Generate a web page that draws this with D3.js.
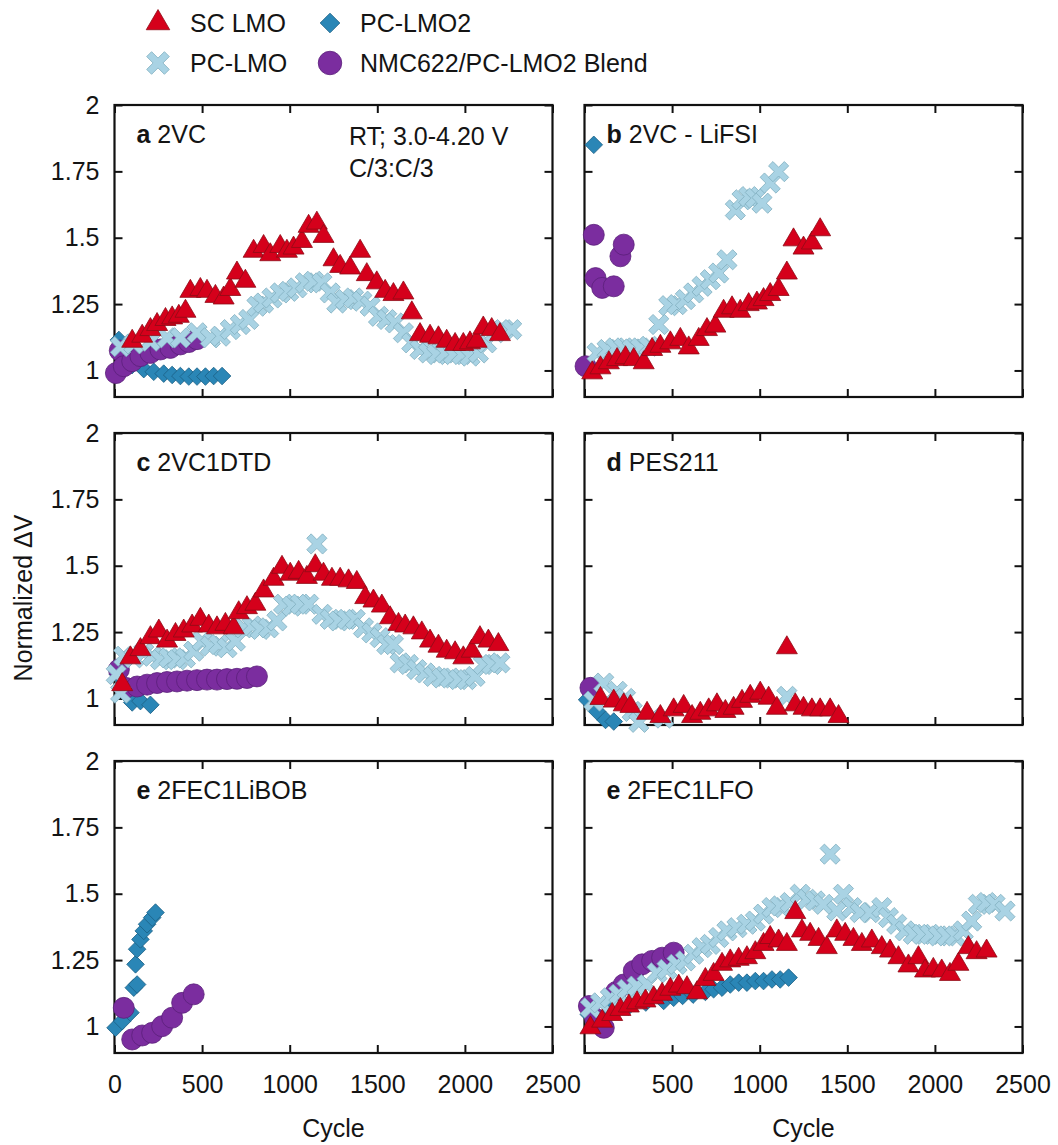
<!DOCTYPE html>
<html>
<head>
<meta charset="utf-8">
<script src="https://cdn.jsdelivr.net/npm/d3@7"></script>
<style>
  html, body { margin: 0; padding: 0; background: #fff; }
  svg text { font-family: "Liberation Sans", Arial, sans-serif; fill: #141414; }
</style>
</head>
<body>
<script>
// ---- axis ticks ----
const cycleTicks = [0, 500, 1000, 1500, 2000, 2500];
const dvTicks = [1, 1.25, 1.5, 1.75, 2];

// ---- series: [cycle, normalized ΔV] ----
// a: 2VC
const aSC = [[101,1.110],[158,1.129],[205,1.154],[243,1.173],[291,1.192],[329,1.198],[367,1.204],[405,1.223],[433,1.298],[490,1.305],[528,1.298],[576,1.279],[623,1.273],[661,1.305],[699,1.367],[747,1.336],[794,1.449],[851,1.467],[889,1.436],[946,1.467],[984,1.449],[1022,1.461],[1070,1.486],[1108,1.543],[1155,1.555],[1193,1.505],[1250,1.417],[1288,1.392],[1345,1.386],[1402,1.449],[1440,1.361],[1497,1.330],[1545,1.298],[1592,1.286],[1649,1.292],[1697,1.217],[1744,1.135],[1801,1.129],[1849,1.123],[1896,1.110],[1944,1.098],[1991,1.098],[2029,1.104],[2067,1.110],[2105,1.160],[2153,1.154],[2200,1.135]];
const aPC = [[34,1.09],[110,1.10],[205,1.11],[300,1.123],[376,1.123],[471,1.142],[547,1.123],[604,1.129],[661,1.154],[718,1.173],[766,1.192],[813,1.242],[851,1.254],[899,1.273],[946,1.292],[994,1.298],[1041,1.311],[1089,1.330],[1136,1.336],[1184,1.330],[1231,1.292],[1269,1.254],[1317,1.267],[1364,1.273],[1412,1.261],[1459,1.242],[1507,1.204],[1554,1.192],[1602,1.179],[1649,1.142],[1697,1.104],[1744,1.079],[1792,1.066],[1839,1.060],[1887,1.066],[1934,1.060],[1982,1.060],[2029,1.054],[2077,1.066],[2124,1.104],[2172,1.142],[2219,1.154],[2267,1.154]];
const aPC2 = [[25,1.115],[60,1.06],[100,1.02],[167,1.005],[224,0.995],[281,0.988],[329,0.983],[376,0.979],[424,0.977],[471,0.977],[519,0.977],[566,0.979],[614,0.979]];
const aBlend = [[8,0.99],[30,1.075],[53,1.016],[101,1.035],[148,1.054],[205,1.066],[262,1.079],[319,1.085],[376,1.098],[424,1.107],[471,1.118]];

// b: 2VC - LiFSI
const bSC = [[44,0.991],[91,1.010],[139,1.029],[186,1.041],[234,1.048],[281,1.041],[338,1.029],[386,1.079],[433,1.091],[490,1.104],[547,1.117],[595,1.085],[652,1.117],[699,1.154],[747,1.167],[794,1.223],[842,1.236],[889,1.223],[937,1.248],[984,1.254],[1022,1.267],[1060,1.286],[1108,1.305],[1155,1.367],[1193,1.492],[1250,1.461],[1298,1.480],[1345,1.530]];
const bPC = [[72,1.066],[129,1.079],[177,1.085],[224,1.085],[272,1.081],[319,1.085],[367,1.091],[424,1.173],[481,1.244],[528,1.248],[576,1.267],[623,1.292],[671,1.317],[718,1.342],[766,1.367],[813,1.417],[861,1.605],[899,1.643],[937,1.655],[975,1.649],[1013,1.630],[1060,1.706],[1108,1.749]];
const bPC2 = [[53,1.850]];
const bBlend = [[6,1.016],[53,1.511],[63,1.348],[101,1.311],[167,1.317],[205,1.430],[224,1.474]];

// c: 2VC1DTD
const cSC = [[44,1.052],[91,1.153],[148,1.184],[205,1.229],[253,1.254],[300,1.216],[348,1.241],[395,1.254],[443,1.273],[490,1.298],[538,1.273],[585,1.266],[633,1.279],[680,1.266],[709,1.323],[756,1.342],[804,1.355],[851,1.405],[908,1.449],[956,1.494],[1003,1.468],[1051,1.475],[1098,1.456],[1146,1.500],[1193,1.468],[1241,1.449],[1288,1.449],[1336,1.443],[1383,1.437],[1431,1.380],[1478,1.367],[1526,1.348],[1573,1.304],[1621,1.279],[1659,1.273],[1706,1.266],[1754,1.247],[1801,1.216],[1849,1.197],[1896,1.178],[1944,1.172],[1991,1.153],[2039,1.178],[2086,1.229],[2134,1.216],[2191,1.203]];
const cPC = [[10,1.09],[35,1.02],[53,1.159],[110,1.153],[167,1.172],[215,1.159],[262,1.146],[310,1.153],[357,1.146],[405,1.153],[452,1.178],[500,1.216],[547,1.197],[595,1.203],[642,1.191],[690,1.216],[737,1.266],[785,1.273],[832,1.260],[880,1.266],[927,1.292],[965,1.355],[1013,1.348],[1060,1.355],[1108,1.355],[1155,1.582],[1184,1.317],[1231,1.298],[1279,1.292],[1326,1.298],[1374,1.298],[1421,1.266],[1469,1.247],[1516,1.229],[1554,1.203],[1592,1.203],[1630,1.134],[1678,1.128],[1725,1.109],[1773,1.096],[1820,1.083],[1868,1.077],[1915,1.077],[1963,1.071],[2010,1.071],[2058,1.083],[2105,1.128],[2153,1.128],[2200,1.134]];
const cPC2 = [[20,1.09],[60,1.02],[101,0.985],[148,0.99],[205,0.976]];
const cBlend = [[25,1.109],[63,1.04],[129,1.045],[186,1.052],[243,1.058],[300,1.062],[357,1.064],[414,1.067],[471,1.069],[528,1.071],[585,1.071],[642,1.073],[699,1.074],[756,1.077],[813,1.083]];

// d: PES211
const dSC = [[91,1.0],[167,0.99],[224,0.976],[262,0.970],[357,0.944],[433,0.932],[509,0.957],[566,0.970],[614,0.932],[661,0.944],[709,0.957],[756,0.976],[804,0.951],[851,0.963],[899,0.989],[946,1.008],[1003,1.020],[1051,1.001],[1098,0.963],[1155,1.191],[1203,0.976],[1250,0.963],[1298,0.957],[1345,0.957],[1402,0.957],[1450,0.932]];
const dPC = [[53,0.99],[110,1.058],[186,1.027],[234,1.0],[272,0.951],[310,0.91],[452,0.926],[1155,1.008]];
const dPC2 = [[15,0.995],[72,0.951],[120,0.919],[167,0.913]];
const dBlend = [[34,1.04]];

// e: 2FEC1LiBOB
const eSC = [];
const ePC = [];
const ePC2 = [[6,0.995],[44,1.02],[91,1.052],[110,1.146],[129,1.158],[120,1.234],[129,1.291],[148,1.328],[167,1.36],[186,1.385],[215,1.41],[234,1.429]];
const eBlend = [[53,1.07],[101,0.951],[158,0.966],[215,0.976],[272,1.001],[329,1.033],[386,1.089],[452,1.121]];

// e: 2FEC1LFO
const fSC = [[34,0.995],[101,1.020],[158,1.045],[205,1.064],[253,1.077],[300,1.089],[348,1.096],[395,1.108],[443,1.121],[490,1.140],[538,1.152],[585,1.146],[642,1.127],[690,1.177],[737,1.196],[785,1.234],[832,1.247],[880,1.253],[927,1.259],[975,1.278],[1022,1.309],[1060,1.335],[1108,1.322],[1155,1.309],[1203,1.429],[1241,1.360],[1288,1.347],[1336,1.328],[1383,1.297],[1440,1.360],[1488,1.347],[1535,1.328],[1583,1.309],[1640,1.322],[1697,1.297],[1744,1.284],[1792,1.259],[1849,1.228],[1906,1.259],[1944,1.209],[1991,1.215],[2039,1.209],[2086,1.196],[2134,1.234],[2191,1.297],[2238,1.278],[2295,1.284]];
const fPC = [[34,1.070],[91,1.089],[148,1.108],[196,1.121],[243,1.140],[300,1.152],[357,1.158],[414,1.202],[471,1.215],[528,1.234],[576,1.247],[623,1.272],[671,1.297],[718,1.309],[766,1.335],[813,1.360],[870,1.372],[927,1.385],[975,1.397],[1022,1.423],[1070,1.448],[1117,1.454],[1174,1.467],[1231,1.498],[1269,1.479],[1317,1.473],[1364,1.460],[1402,1.649],[1440,1.435],[1478,1.498],[1526,1.448],[1573,1.429],[1630,1.429],[1697,1.448],[1735,1.410],[1782,1.385],[1830,1.360],[1877,1.347],[1925,1.347],[1972,1.347],[2020,1.341],[2067,1.341],[2115,1.341],[2162,1.360],[2210,1.397],[2248,1.460],[2295,1.467],[2343,1.460],[2400,1.435]];
const fPC2 = [[25,1.045],[34,1.052],[150,1.06],[250,1.075],[350,1.09],[452,1.096],[509,1.108],[560,1.115],[620,1.12],[690,1.13],[737,1.140],[785,1.146],[832,1.158],[880,1.165],[927,1.165],[975,1.171],[1022,1.171],[1070,1.177],[1117,1.177],[1165,1.184]];
const fBlend = [[25,1.077],[60,1.03],[110,0.995],[180,1.13],[224,1.158],[281,1.209],[329,1.234],[386,1.247],[443,1.259],[509,1.278]];

const seriesNames = ["SC LMO", "PC-LMO", "PC-LMO2", "NMC622/PC-LMO2 Blend"];

// ---- layout ----
const W = 1058, H = 1145;
const PW = 438, PH = 292;
const colLeft = [114.5, 584.5];
const rowTop = [105, 433, 761];

const panels = [
  { letter: "a", name: "2VC",         col: 0, row: 0, sc: aSC, pc: aPC, pc2: aPC2, blend: aBlend },
  { letter: "b", name: "2VC - LiFSI", col: 1, row: 0, sc: bSC, pc: bPC, pc2: bPC2, blend: bBlend },
  { letter: "c", name: "2VC1DTD",     col: 0, row: 1, sc: cSC, pc: cPC, pc2: cPC2, blend: cBlend },
  { letter: "d", name: "PES211",      col: 1, row: 1, sc: dSC, pc: dPC, pc2: dPC2, blend: dBlend },
  { letter: "e", name: "2FEC1LiBOB",  col: 0, row: 2, sc: eSC, pc: ePC, pc2: ePC2, blend: eBlend },
  { letter: "e", name: "2FEC1LFO",    col: 1, row: 2, sc: fSC, pc: fPC, pc2: fPC2, blend: fBlend }
];

// marker shapes, centred on 0,0
function markerPath(shape, s) {
  if (shape === "triangle") {
    const w = 10.5 * s, h = 18 * s;
    return `M0,${-h * 2 / 3}L${w},${h / 3}L${-w},${h / 3}Z`;
  }
  if (shape === "diamond") {
    const r = 8.8 * s;
    return `M0,${-r}L${r},0L0,${r}L${-r},0Z`;
  }
  if (shape === "circle") {
    const r = 10.5 * s;
    return `M${r},0A${r},${r} 0 1,1 ${-r},0A${r},${r} 0 1,1 ${r},0Z`;
  }
  // thick diagonal cross
  const a = 11.2 * s, w = 3.1 * s;
  const pts = [[w,w],[a,w],[a,-w],[w,-w],[w,-a],[-w,-a],[-w,-w],[-a,-w],[-a,w],[-w,w],[-w,a],[w,a]];
  const c = Math.SQRT1_2;
  return "M" + pts.map(([x, y]) => [(x - y) * c, (x + y) * c].map(v => v.toFixed(2)).join(",")).join("L") + "Z";
}

const styles = {
  sc:    { shape: "triangle", fill: "#d5001b", stroke: "#8e0b17" },
  pc:    { shape: "cross",    fill: "#a9d3e4", stroke: "#80aebf" },
  pc2:   { shape: "diamond",  fill: "#2a86b6", stroke: "#1c5f84" },
  blend: { shape: "circle",   fill: "#7b2d9f", stroke: "#5b1f7a" }
};
const drawOrder = ["pc2", "blend", "pc", "sc"];

const x = d3.scaleLinear().domain([0, 2500]).range([0, PW]);
const y = d3.scaleLinear().domain([0.9, 2]).range([PH, 0]);

const svg = d3.select("body").append("svg").attr("width", W).attr("height", H);
const FONT = 25;

function styleAxis(g) {
  g.selectAll(".domain").remove();
  g.selectAll(".tick line").attr("stroke", "#111").attr("stroke-width", 2);
  g.selectAll(".tick text").attr("font-size", FONT).attr("font-family", "Liberation Sans, Arial, sans-serif").attr("fill", "#141414");
  g.attr("font-size", null).attr("font-family", null);
}

panels.forEach(p => {
  const g = svg.append("g").attr("transform", `translate(${colLeft[p.col]},${rowTop[p.row]})`);

  const fmtX = p.row === 2 ? (d => (p.col === 1 && d === 0) ? "" : String(d)) : () => "";
  const fmtY = p.col === 0 ? d3.format("~g") : () => "";

  g.append("g").attr("transform", `translate(0,${PH})`)
    .call(d3.axisBottom(x).tickValues(cycleTicks).tickSizeInner(-8).tickSizeOuter(0).tickPadding(22).tickFormat(fmtX))
    .call(styleAxis);
  g.append("g")
    .call(d3.axisTop(x).tickValues(cycleTicks).tickSizeInner(-8).tickSizeOuter(0).tickFormat(() => ""))
    .call(styleAxis);
  g.append("g")
    .call(d3.axisLeft(y).tickValues(dvTicks).tickSizeInner(-8).tickSizeOuter(0).tickPadding(15).tickFormat(fmtY))
    .call(styleAxis);
  g.append("g").attr("transform", `translate(${PW},0)`)
    .call(d3.axisRight(y).tickValues(dvTicks).tickSizeInner(-8).tickSizeOuter(0).tickFormat(() => ""))
    .call(styleAxis);

  g.append("rect").attr("width", PW).attr("height", PH)
    .attr("fill", "none").attr("stroke", "#111").attr("stroke-width", 2.2);

  // panel title
  const t = g.append("text").attr("x", 22).attr("y", 38).attr("font-size", FONT);
  t.append("tspan").attr("font-weight", "bold").text(p.letter);
  t.append("tspan").text(" " + p.name);

  if (p.letter === "a") {
    g.append("text").attr("x", 234.5).attr("y", 40).attr("font-size", FONT).text("RT; 3.0-4.20 V");
    g.append("text").attr("x", 234.5).attr("y", 72).attr("font-size", FONT).text("C/3:C/3");
  }

  drawOrder.forEach(key => {
    const st = styles[key];
    g.append("g").selectAll("path").data(p[key]).join("path")
      .attr("d", markerPath(st.shape, 1))
      .attr("transform", d => `translate(${x(d[0])},${y(d[1])})`)
      .attr("fill", st.fill).attr("stroke", st.stroke).attr("stroke-width", 0.8);
  });
});

// axis titles
[0, 1].forEach(c => {
  svg.append("text").attr("x", colLeft[c] + PW / 2).attr("y", 1137)
    .attr("text-anchor", "middle").attr("font-size", FONT).text("Cycle");
});
svg.append("text").attr("transform", "translate(32,598) rotate(-90)")
  .attr("text-anchor", "middle").attr("font-size", FONT).text("Normalized ΔV");

// legend
const legendItems = [
  { key: "sc",    label: seriesNames[0], cx: 158, cy: 23 },
  { key: "pc2",   label: seriesNames[2], cx: 330, cy: 23 },
  { key: "pc",    label: seriesNames[1], cx: 158, cy: 63 },
  { key: "blend", label: seriesNames[3], cx: 330, cy: 63 }
];
const lg = svg.append("g");
legendItems.forEach(it => {
  const st = styles[it.key];
  lg.append("path").attr("d", markerPath(st.shape, 1.12))
    .attr("transform", `translate(${it.cx},${it.cy})`)
    .attr("fill", st.fill).attr("stroke", st.stroke).attr("stroke-width", 0.8);
  lg.append("text").attr("x", it.cx + (it.key === "sc" || it.key === "pc" ? 32 : 30)).attr("y", it.cy + 9)
    .attr("font-size", FONT).text(it.label);
});
</script>
</body>
</html>
